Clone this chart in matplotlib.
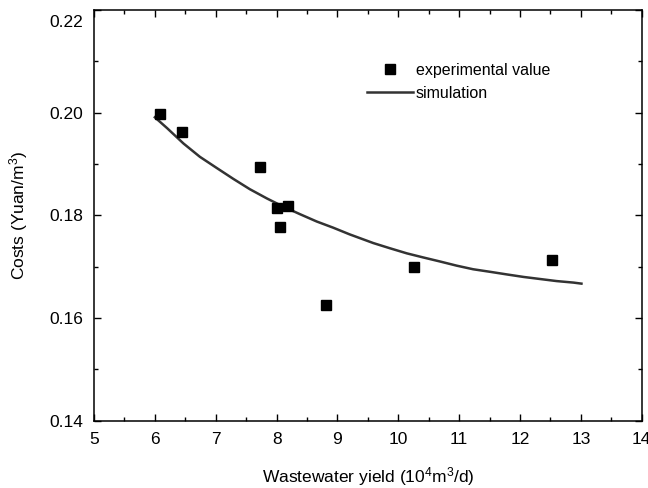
import numpy as np
import matplotlib
matplotlib.use('Agg')
import matplotlib.pyplot as plt
from matplotlib import rcParams, transforms
from matplotlib.ticker import MultipleLocator

# measured points
exp_x = [6.08, 6.45, 7.72, 8.01, 8.19, 8.06, 8.82, 10.26, 12.52]
exp_y = [0.1997, 0.1962, 0.1895, 0.1814, 0.1818, 0.1778, 0.1625, 0.1699, 0.1714]

# simulated curve
sim_x = [6.00, 6.20, 6.47, 6.74, 7.02, 7.29, 7.56, 7.84, 8.11, 8.39, 8.66,
         8.93, 9.20, 9.59, 9.86, 10.14, 10.41, 10.69, 10.96, 11.23,
         11.51, 11.78, 12.06, 12.33, 12.60, 12.88, 13.01]
sim_y = [0.1991, 0.1970, 0.1940, 0.1914, 0.1892, 0.1871, 0.1851, 0.1833,
         0.1817, 0.1802, 0.1788, 0.1776, 0.1763, 0.1746, 0.1736,
         0.1726, 0.1718, 0.1710, 0.1702, 0.1695, 0.1690, 0.1685, 0.1680,
         0.1676, 0.1672, 0.1669, 0.1667]

x_ticks = [5, 6, 7, 8, 9, 10, 11, 12, 13, 14]
y_ticks = [0.14, 0.16, 0.18, 0.20, 0.22]
y_labels = ['0.14', '0.16', '0.18', '0.20', '0.22']

params = {
    'font.family': ['Liberation Sans', 'DejaVu Sans'],
    'mathtext.fontset': 'custom',
    'mathtext.rm': 'Liberation Sans',
    'mathtext.it': 'Liberation Sans',
    'font.size': 12.5,
    'axes.linewidth': 1.1,
    'xtick.direction': 'in',
    'ytick.direction': 'in',
    'xtick.major.size': 5,
    'ytick.major.size': 5,
    'xtick.minor.size': 3,
    'ytick.minor.size': 3,
    'xtick.major.width': 1.0,
    'ytick.major.width': 1.0,
    'xtick.minor.width': 1.0,
    'ytick.minor.width': 1.0,
    'xtick.major.pad': 8,
    'ytick.major.pad': 8,
}
rcParams.update(params)

fig = plt.figure(figsize=(6.48, 4.88), dpi=100)
ax = fig.add_axes([94 / 648., 1 - 420.7 / 488., (641.7 - 94) / 648., (420.7 - 10) / 488.])

ax.plot(sim_x, sim_y, '-', color='#333333', lw=1.8, label='simulation', zorder=2)
ax.plot(exp_x, exp_y, 's', color='k', ms=6.5, ls='none',
        label='experimental value', zorder=3)

ax.set_xlim(5, 14)
ax.set_ylim(0.14, 0.22)
ax.set_xticks(x_ticks)
ax.set_yticks(y_ticks)
ax.set_yticklabels(y_labels)
ax.xaxis.set_minor_locator(MultipleLocator(0.5))
ax.yaxis.set_minor_locator(MultipleLocator(0.01))
ax.tick_params(which='both', top=True, right=True)
ax.tick_params(axis='both', labelsize=12.5)

ax.set_xlabel('Wastewater yield (10$^4$m$^3$/d)', fontsize=12.5, labelpad=13)
ax.set_ylabel('Costs (Yuan/m$^3$)', fontsize=12.5, labelpad=14)

# top label sits a bit lower in the original
lab = ax.get_yticklabels()[-1]
lab.set_transform(lab.get_transform() +
                  transforms.ScaledTranslation(0, -11 / 100., fig.dpi_scale_trans))

h, l = ax.get_legend_handles_labels()
ax.legend(h[::-1], l[::-1], loc='upper left', frameon=False, fontsize=11.5,
          bbox_to_anchor=(367 / 648., 1 - 63 / 488.), bbox_transform=fig.transFigure,
          borderaxespad=0, borderpad=0, handlelength=2.9, handletextpad=0.15,
          labelspacing=0.5, numpoints=1)

fig.savefig('out.png', dpi=100)
